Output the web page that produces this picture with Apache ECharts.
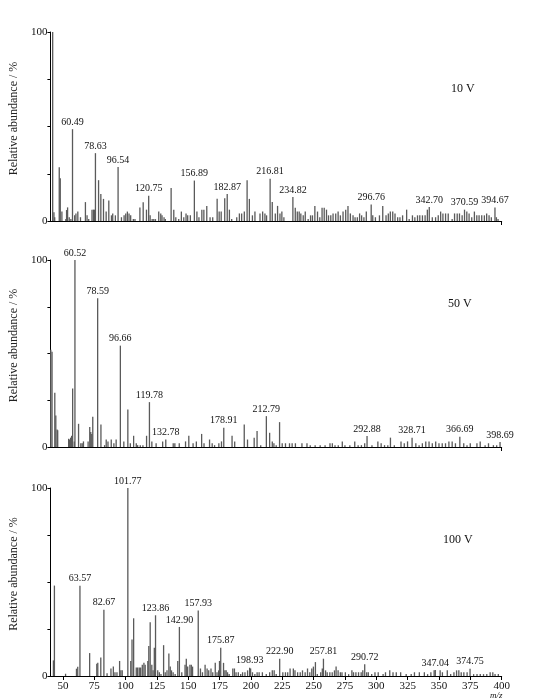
<!DOCTYPE html>
<html>
<head>
<meta charset="utf-8">
<script src="https://cdn.jsdelivr.net/npm/echarts@6/dist/echarts.min.js"></script>
<style>
  html, body { margin: 0; padding: 0; background: #fff; }
  #main { width: 533px; height: 699px; }
</style>
</head>
<body>
<div id="main"></div>
<script>
// 峰数据 [m/z, 相对丰度 %]
var peaks10 = [[44.8,100],[45.8,4.6],[46.4,2],[50.0,28.4],[50.8,22.6],[52.1,5],[55.2,1],[55.8,5.8],[56.6,7.2],[57.9,2],[59.2,1],
  [60.49,48.6],[62.2,3],[63.2,4],[64.7,5],[66.8,2],[70.7,10],[72.0,3],[73.3,1],[75.9,6],[77.0,6],[77.8,6],[78.63,35.9],[81.1,21.6],
  [82.9,14.3],[85.0,11.7],[87.1,5],[89.2,10.8],[91.3,3],[92.3,4],[94.4,3],[96.54,28.6],[99.2,2],[101.3,3],[102.6,4],[103.9,5],
  [105.2,4],[106.5,3],[108.6,1],[109.9,1],[113.8,7.2],[116.4,9.9],[119.0,6],[120.75,13.3],[121.9,3],[123.5,1],[124.8,1],[126.1,1],
  [128.7,5],[130.3,4],[131.3,3],[132.9,2],[133.9,1],[138.5,17.5],[140.6,6],[142.2,2],[144.5,1],[146.6,5],[148.5,2],[150.3,4],
  [151.6,3],[153.7,3],[156.89,21.4],[158.9,5],[160.5,2],[162.8,6],[164.4,6],[166.7,8],[169.3,2],[171.4,2],[174.9,11.8],[176.5,5],
  [178.1,5],[180.9,12],[182.87,14.3],[184.6,6],[186.4,1],[190.4,2],[192.5,4],[194.3,4],[196.4,5],[198.6,21.6],[200.4,11.7],
  [202.8,3],[204.8,5],[208.8,4],[210.9,5],[212.7,4],[214.0,3],[216.81,22.3],[218.5,10],[220.9,4],[222.7,8],[224.6,4],[226.1,5],
  [227.7,2],[234.82,12.7],[236.7,7],[238.3,5],[239.8,5],[241.1,4],[243.0,3],[244.6,5],[246.9,1],[248.8,3],[250.3,3],[252.2,8],
  [254.3,5],[256.1,2],[257.9,7],[259.6,7],[261.4,6],[263.0,3],[264.8,3],[266.6,4],[268.7,4],[270.6,5],[272.4,3],[274.5,5],
  [276.6,6],[278.4,8],[280.3,4],[282.4,3],[284.0,2],[285.8,2],[287.6,4],[289.2,3],[291.0,2],[292.9,5],[296.76,8.7],[298.0,3],
  [300.1,2],[303.3,3],[305.9,8],[308.5,3],[310.3,4],[311.9,5],[313.8,5],[315.6,4],[317.7,2],[319.5,2],[321.6,3],[324.8,6],
  [326.8,1],[329.4,3],[331.3,2],[333.4,3],[335.2,3],[337.3,3],[339.4,3],[341.2,6],[342.70,7.4],[345.1,2],[347.7,2],[349.8,3],
  [351.7,5],[353.5,4],[355.6,4],[357.7,4],[360.8,1],[362.7,4],[364.8,4],[366.6,4],[368.7,3],[370.59,6],[372.4,5],[374.2,4],
  [376.3,2],[378.4,5],[380.3,3],[382.1,3],[384.2,3],[386.3,3],[388.1,4],[390.0,3],[391.8,2],[394.67,7.2],[395.8,2],[397.1,1]];
var labels10 = [60.49, 78.63, 96.54, 120.75, 156.89, 182.87, 216.81, 234.82, 296.76, 342.70, 370.59, 394.67];

var peaks50 = [[41.3,52],[42.3,51],[44.5,29],[45.3,16.9],[46.3,9.4],[46.8,9],[55.5,4.4],[56.3,4],[57.1,5],[57.9,6],[58.7,31.3],
  [60.0,3],[60.52,100],[63.4,12.4],[65.2,2],[66.3,2],[67.3,3],[71.0,3],[72.3,10.7],[73.1,8],[73.9,7],[74.7,16.2],[78.59,79.6],
  [81.2,12],[84.1,1],[85.4,4],[86.8,3],[89.4,4],[91.5,2],[93.3,4],[96.66,54.2],[99.4,3],[102.6,20],[104.6,2],[107.2,6],[109.3,2],
  [110.4,1],[112.5,1],[114.6,1],[117.5,6],[119.78,24],[121.7,3],[125.1,2],[130.3,3],[132.78,4],[138.7,2],[140.0,2],[143.5,2],
  [148.5,3],[151.1,6],[154.5,2],[157.1,3],[161.3,7],[163.2,2],[167.6,4],[169.7,2],[171.6,1],[175.0,2],[177.1,3],[178.91,10.3],
  [185.5,6],[187.6,3],[195.2,12],[197.8,4],[203.1,5],[205.4,8.5],[208.3,1],[212.79,16.5],[215.4,7.6],[217.5,3],[218.8,2],
  [220.6,1],[223.3,13.3],[225.4,2],[228.0,2],[231.2,2],[233.3,2],[235.9,2],[241.1,2],[245.1,2],[247.7,1],[251.6,1],[255.6,1],
  [259.5,1],[263.4,2],[265.3,2],[267.4,1],[270.0,1],[273.2,3],[275.3,1],[279.2,1],[283.1,3],[285.8,1],[288.4,1],[291.0,2],
  [292.88,5.9],[296.8,1],[301.5,3],[304.1,2],[306.8,1],[309.4,1],[311.5,5],[314.6,1],[319.9,3],[322.5,2],[325.1,3],[328.71,5],
  [331.7,2],[334.3,1],[336.9,2],[339.6,3],[342.2,3],[344.8,2],[347.5,3],[350.1,2],[352.7,2],[355.3,2],[358.0,3],[360.6,3],
  [363.2,2],[366.69,5.5],[369.8,2],[372.4,1],[375.0,2],[380.3,2],[382.9,3],[386.8,1],[389.5,2],[393.4,1],[396.0,1],[398.69,2.7]];
var labels50 = [60.52, 78.59, 96.66, 119.78, 132.78, 178.91, 212.79, 292.88, 328.71, 366.69, 398.69];

var peaks100 = [[42.4,8.3],[43.2,48.1],[52.1,1.2],[60.8,3.9],[61.8,4.9],[63.57,48],[71.3,12.2],[77.0,6.5],[77.8,7],[80.2,9.9],
  [82.67,35.3],[85.2,1.5],[88.3,4],[90.2,5],[91.5,2],[93.1,2],[95.2,8],[96.2,3],[97.3,3],[101.77,100],[104.1,8],[105.1,19.4],
  [106.4,30.7],[108.5,4.5],[109.6,4.5],[110.9,4.5],[112.0,4.5],[113.3,6],[114.6,7],[115.6,6],[117.7,8],[118.5,15.9],[119.6,28.6],
  [120.9,6],[121.9,3],[122.9,15],[123.86,32.3],[125.6,3],[126.9,2],[128.2,1],[130.3,16.4],[131.6,2],[133.0,3],[134.5,12],
  [135.6,5],[136.6,3],[137.9,2],[139.5,1],[141.6,8],[142.90,26.1],[144.8,2],[147.4,6],[148.4,9.2],[149.5,5],[151.3,6],[152.4,6],
  [153.4,5],[157.93,34.9],[159.7,4],[161.3,2],[163.4,6],[165.0,4],[166.3,3],[168.1,4],[169.5,2],[171.5,7],[172.9,2],[174.2,3],
  [174.9,8],[175.87,15],[178.1,7],[179.2,3],[180.2,3],[181.3,2],[182.6,1],[185.5,4],[186.8,4],[188.1,2],[189.9,2],[191.8,1],
  [193.3,2],[195.2,2],[197.3,3],[198.93,4.4],[199.7,4],[201.2,2],[203.1,1],[204.9,2],[206.5,2],[209.1,2],[212.2,1],[214.9,2],
  [217.0,3],[218.5,3],[220.1,1],[222.90,9.2],[225.4,2],[227.5,2],[229.3,2],[231.2,4],[233.8,4],[235.1,3],[237.2,2],[239.3,2],
  [241.1,3],[243.2,2],[245.1,4],[246.9,2],[248.5,4],[249.8,5],[251.4,7.4],[252.9,1],[255.6,2],[256.9,4],[257.81,9.2],[259.5,3],
  [260.8,2],[262.9,2],[264.8,2],[266.6,3],[267.9,5],[269.5,3],[271.3,2],[272.6,2],[275.3,2],[277.9,1],[280.5,3],[281.8,2],
  [283.7,2],[285.8,2],[287.9,2],[289.2,3],[290.72,6.2],[292.3,2],[293.6,2],[296.3,1],[298.9,2],[301.5,2],[305.4,1],[307.3,2],
  [310.7,3],[313.3,2],[315.9,2],[319.4,2],[323.8,1],[327.8,1],[330.4,2],[334.3,2],[338.3,2],[340.9,1],[343.5,2],[346.1,3],
  [347.04,3.2],[350.9,3],[352.7,2],[356.6,3],[359.3,1],[361.9,2],[364.0,3],[365.8,3],[367.7,2],[369.8,2],[372.4,2],[374.75,3.9],
  [377.6,1],[380.3,1],[382.9,1],[385.5,1],[388.1,1],[390.8,2],[392.9,2],[394.7,1],[397.3,1]];
var labels100 = [63.57, 82.67, 101.77, 123.86, 142.90, 157.93, 175.87, 198.93, 222.90, 257.81, 290.72, 347.04, 374.75];

var voltages = ['10 V', '50 V', '100 V'];
var xTicks = [50, 75, 100, 125, 150, 175, 200, 225, 250, 275, 300, 325, 350, 375, 400];
var xMins = [43, 41, 40];

var serif = 'Liberation Serif';
var chart = echarts.init(document.getElementById('main'));

var panels = [
  { peaks: peaks10, labels: labels10, top: 32, height: 189 },
  { peaks: peaks50, labels: labels50, top: 260, height: 187 },
  { peaks: peaks100, labels: labels100, top: 488, height: 188 }
];
var pxPerUnit = 1.2696, rightPx = 501.7;

var grids = [], xAxes = [], yAxes = [], series = [], graphics = [];
panels.forEach(function (p, i) {
  var left = rightPx - (400 - xMins[i]) * pxPerUnit;
  grids.push({ left: left, right: 533 - rightPx, top: p.top, height: p.height });
  var last = i === 2;
  xAxes.push({
    type: 'value', gridIndex: i, min: xMins[i], max: 400,
    splitLine: { show: false },
    axisLine: { lineStyle: { color: '#000', width: 1 } },
    axisTick: { show: true, length: 4, lineStyle: { color: '#000' }, customValues: last ? xTicks : [400] },
    axisLabel: { show: last, customValues: xTicks, color: '#111', fontSize: 11, fontFamily: serif, margin: 5 }
  });
  yAxes.push({
    type: 'value', gridIndex: i, min: 0, max: 100, interval: 25,
    name: 'Relative abundance / %', nameLocation: 'middle', nameGap: 28,
    nameTextStyle: { fontFamily: serif, fontSize: 12, color: '#222', padding: [0, 0, 0, 16] },
    splitLine: { show: false },
    axisLine: { show: true, lineStyle: { color: '#000', width: 1 } },
    axisTick: { show: true, length: 3, lineStyle: { color: '#000' } },
    axisLabel: {
      color: '#111', fontSize: 11, fontFamily: serif, margin: 3,
      formatter: function (v) { return (v === 0 || v === 100) ? String(v) : ''; }
    }
  });
  series.push({
    type: 'bar', xAxisIndex: i, yAxisIndex: i, barWidth: 1.3,
    itemStyle: { color: '#5a5a5a' },
    animation: false,
    data: p.peaks.map(function (d) {
      var item = { value: d };
      if (p.labels.indexOf(d[0]) >= 0) {
        item.label = {
          show: true, position: 'top', distance: 2,
          fontFamily: serif, fontSize: 10, color: '#111',
          formatter: function (q) { return q.value[0].toFixed(2); }
        };
      }
      return item;
    })
  });
});

graphics.push({ type: 'text', left: 451, top: 83, style: { text: voltages[0], font: '12px "Liberation Serif"', fill: '#111' } });
graphics.push({ type: 'text', left: 448, top: 298, style: { text: voltages[1], font: '12px "Liberation Serif"', fill: '#111' } });
graphics.push({ type: 'text', left: 443, top: 534, style: { text: voltages[2], font: '12px "Liberation Serif"', fill: '#111' } });
graphics.push({ type: 'text', left: 490, top: 691, style: { text: 'm/z', font: 'italic 9px "Liberation Serif"', fill: '#111' } });

chart.setOption({
  backgroundColor: '#fff',
  animation: false,
  grid: grids,
  xAxis: xAxes,
  yAxis: yAxes,
  series: series,
  graphic: graphics
});
</script>
</body>
</html>
